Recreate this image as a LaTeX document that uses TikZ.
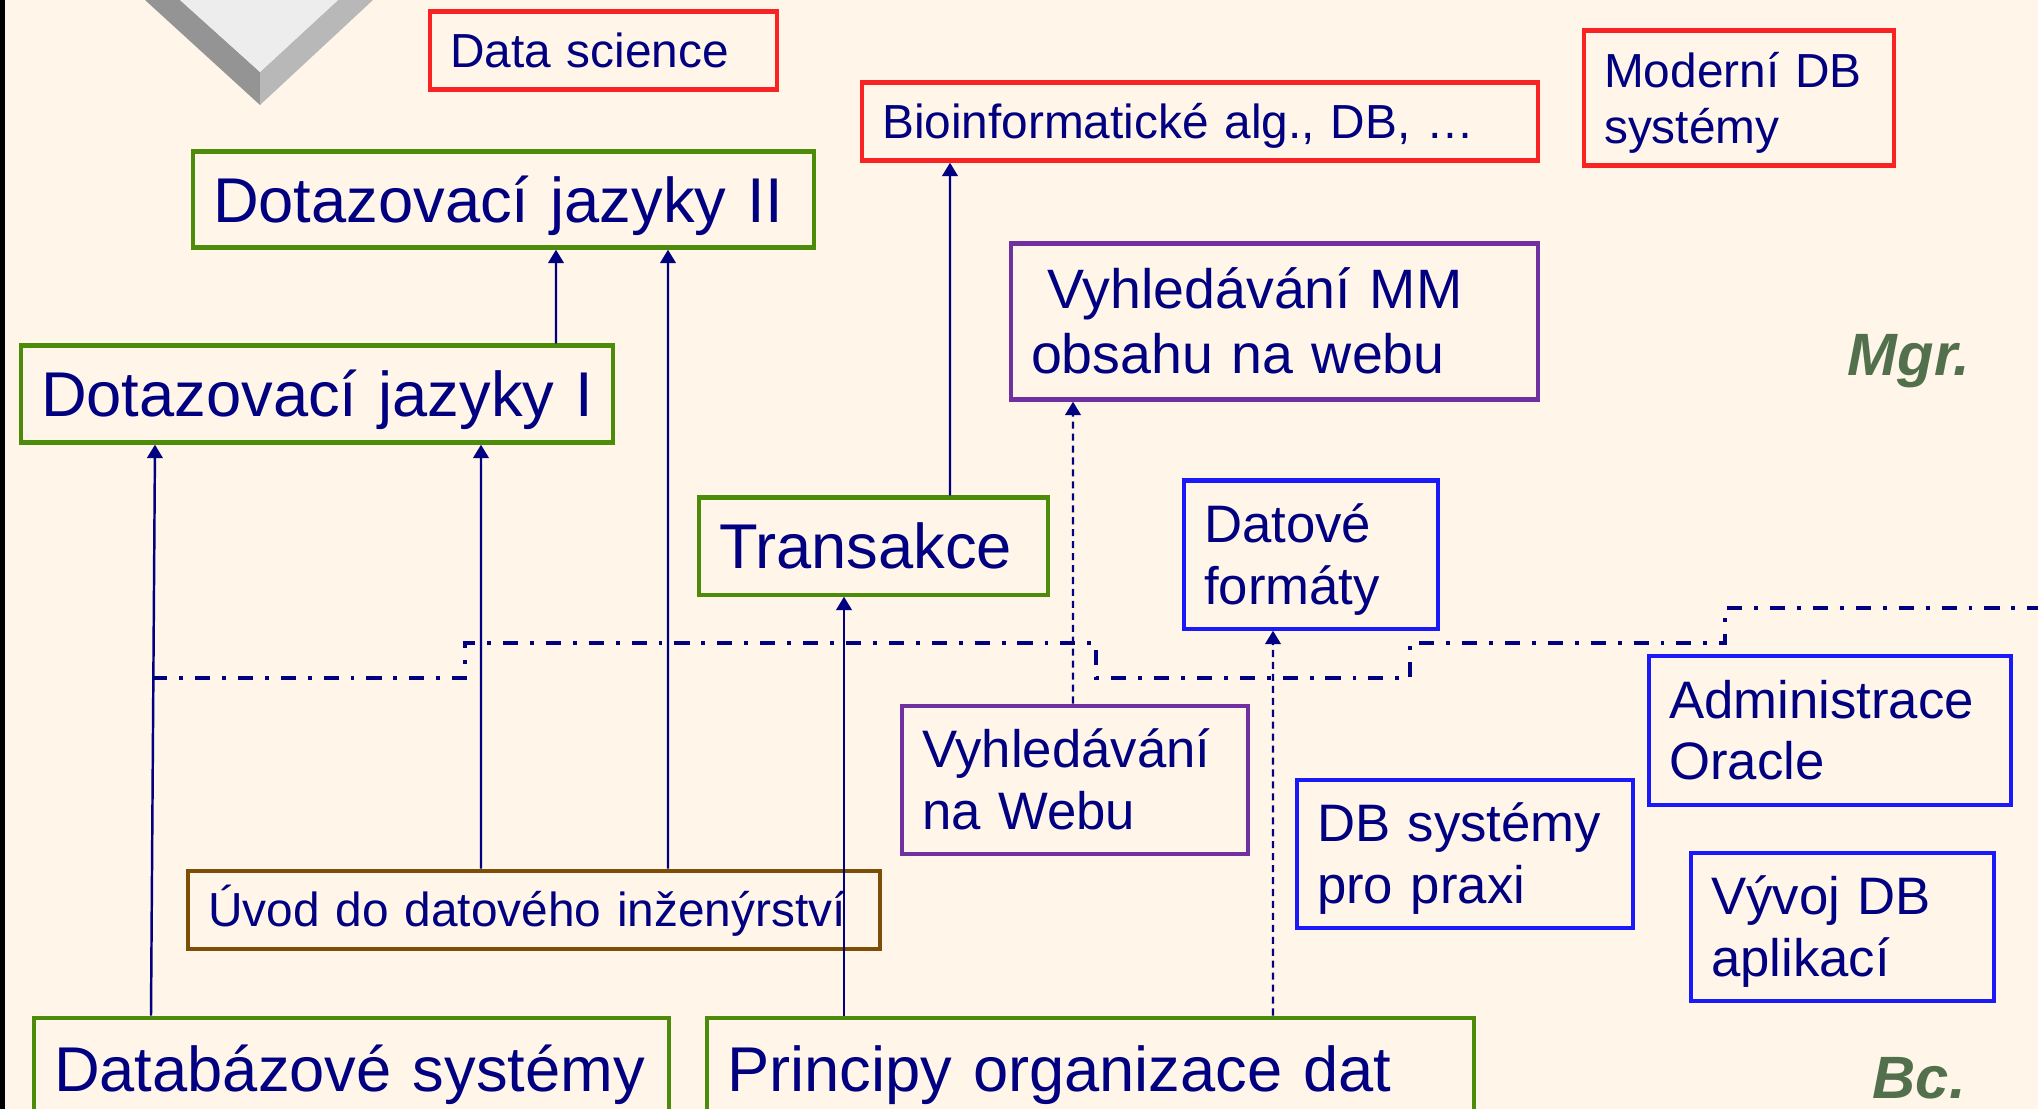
\documentclass[tikz,border=0pt]{standalone}
\usepackage{fontspec}
\setmainfont{Liberation Sans}
\usepackage{tikz}
\usetikzlibrary{arrows.meta}

\definecolor{bgcream}{RGB}{255,245,233}
\definecolor{navy}{RGB}{0,0,128}
\definecolor{boxgreen}{RGB}{76,140,10}
\definecolor{boxred}{RGB}{250,35,35}
\definecolor{boxpurple}{RGB}{112,48,160}
\definecolor{boxblue}{RGB}{25,25,250}
\definecolor{boxbrown}{RGB}{125,78,5}
\definecolor{levelgreen}{RGB}{82,112,76}

\newcommand{\sizeS}{\fontsize{13.6}{15.9}\selectfont}
\newcommand{\sizeM}{\fontsize{15}{17.55}\selectfont}
\newcommand{\sizeMM}{\fontsize{15.8}{18.5}\selectfont}
\newcommand{\sizeL}{\fontsize{18}{21}\selectfont}

\begin{document}
\begin{tikzpicture}[x=1cm,y=-1cm,
    course/.style={draw, line width=1.2pt, text=navy, align=left, anchor=north west, inner xsep=0.2cm, inner ysep=0pt},
    oneS/.style={font=\sizeS, text height=12.24pt, text depth=2.5pt},
    oneL/.style={font=\sizeL, text height=16.2pt, text depth=3.31pt},
    twoS/.style={font=\sizeS, text height=9.74pt, text depth=15.9pt},
    twoM/.style={font=\sizeM, text height=10.74pt, text depth=17.55pt},
    twoMM/.style={font=\sizeMM, text height=11.31pt, text depth=18.5pt},
    arr/.style={navy, line width=0.7pt, -{Triangle[length=3.8pt,width=4.4pt]}},
    darr/.style={arr, dash pattern=on 2pt off 1.4pt},
    boundary/.style={navy, line width=1.15pt, dash pattern=on 4.3pt off 3.4pt on 1.1pt off 3.4pt},
    level/.style={text=levelgreen, font=\fontsize{17}{20}\selectfont\bfseries\itshape, anchor=base west, inner sep=0pt}]
    \clip (0,0) rectangle (20.38,11.09);
    \fill[bgcream] (0,0) rectangle (20.38,11.09);
    \fill[black] (0,0) rectangle (0.05,11.09);
    \fill[black!42] (1.45,0) -- (2.60,1.05) -- (2.60,0.72) -- (1.80,0) -- cycle;
    \fill[black!28] (2.60,1.05) -- (3.73,0) -- (3.38,0) -- (2.60,0.72) -- cycle;
    \fill[black!7] (1.80,0) -- (3.38,0) -- (2.60,0.72) -- cycle;

    \node[course, oneS, draw=boxred, text width=3.07cm, minimum height=0.78cm] (ds) at (4.28,0.095) {Data science};
    \node[course, oneS, draw=boxred, text width=6.36cm, minimum height=0.78cm] (bio) at (8.60,0.805) {Bioinformatické alg., DB, …};
    \node[course, twoS, draw=boxred, text width=2.70cm, minimum height=1.35cm] (mod) at (15.82,0.285) {Moderní DB\\systémy};
    \node[course, oneL, draw=boxgreen, text width=5.81cm, minimum height=0.96cm] (dj2) at (1.91,1.495) {Dotazovací jazyky II};
    \node[course, oneL, draw=boxgreen, text width=5.52cm, minimum height=0.97cm] (dj1) at (0.19,3.435) {Dotazovací jazyky I};
    \node[course, twoMM, draw=boxpurple, text width=4.87cm, minimum height=1.56cm] (mm) at (10.09,2.415) {\hspace*{0.3em}Vyhledávání MM\\obsahu na webu};
    \node[course, oneL, draw=boxgreen, text width=3.09cm, minimum height=0.97cm] (tr) at (6.97,4.955) {Transakce};
    \node[course, twoM, draw=boxblue, text width=2.14cm, minimum height=1.48cm] (df) at (11.82,4.785) {Datové\\formáty};
    \node[course, twoM, draw=boxblue, text width=3.22cm, minimum height=1.49cm] (adm) at (16.47,6.535) {Administrace\\Oracle};
    \node[course, twoM, draw=boxpurple, text width=3.06cm, minimum height=1.48cm] (web) at (9.00,7.035) {Vyhledávání\\na Webu};
    \node[course, twoM, draw=boxblue, text width=2.96cm, minimum height=1.48cm] (dbp) at (12.95,7.775) {DB systémy\\pro praxi};
    \node[course, twoM, draw=boxblue, text width=2.63cm, minimum height=1.48cm] (vyv) at (16.89,8.505) {Vývoj DB\\aplikací};
    \node[course, oneS, draw=boxbrown, text width=6.52cm, minimum height=0.78cm] (uvod) at (1.86,8.685) {Úvod do datového inženýrství};
    \node[course, oneL, draw=boxgreen, text width=5.95cm, minimum height=1.02cm] (dbs) at (0.32,10.155) {Databázové systémy};
    \node[course, oneL, draw=boxgreen, text width=7.27cm, minimum height=1.02cm] (poz) at (7.05,10.155) {Principy organizace dat};

    \node[level] (mgr) at (18.47,3.76) {Mgr.};
    \node[level] (bc) at (18.72,10.98) {Bc.};

    \draw[boundary] (1.52,6.78) -- (4.65,6.78) -- (4.65,6.43) -- (10.96,6.43) -- (10.96,6.78)
        -- (14.10,6.78) -- (14.10,6.43) -- (17.25,6.43) -- (17.25,6.08) -- (20.40,6.08);

    \draw[arr] ([xshift=1.19cm]dbs.north west) -- ([xshift=1.36cm]dj1.south west);
    \draw[arr] ([xshift=2.95cm]uvod.north west) -- ([xshift=4.62cm]dj1.south west);
    \draw[arr] ([xshift=4.82cm]uvod.north west) -- ([xshift=4.77cm]dj2.south west);
    \draw[arr] ([xshift=5.37cm]dj1.north west) -- ([xshift=3.65cm]dj2.south west);
    \draw[arr] ([xshift=2.53cm]tr.north west) -- ([xshift=0.90cm]bio.south west);
    \draw[arr] ([xshift=1.39cm]poz.north west) -- ([xshift=1.47cm]tr.south west);
    \draw[darr] ([xshift=1.73cm]web.north west) -- ([xshift=0.64cm]mm.south west);
    \draw[darr] ([xshift=5.68cm]poz.north west) -- ([xshift=0.91cm]df.south west);
\end{tikzpicture}
\end{document}
